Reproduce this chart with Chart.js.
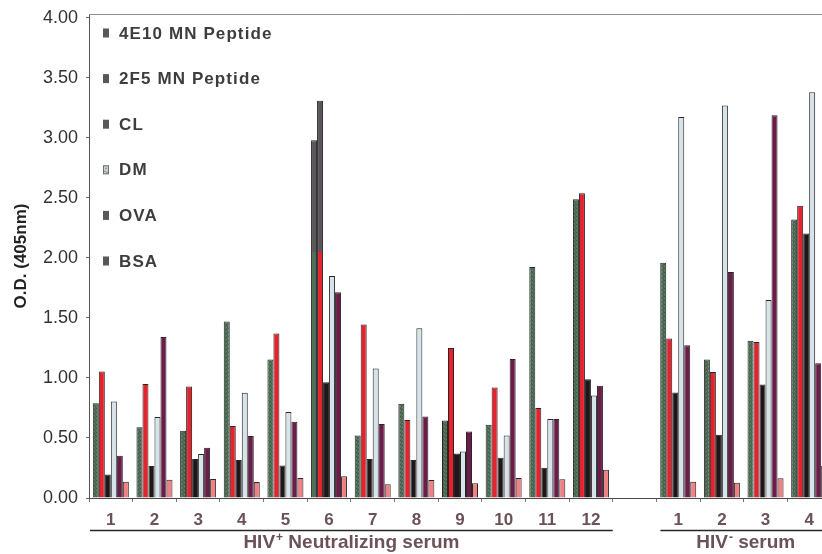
<!DOCTYPE html>
<html>
<head>
<meta charset="utf-8">
<script src="https://cdn.jsdelivr.net/npm/chart.js@4.4.1/dist/chart.umd.min.js"></script>
<style>
  html, body { margin: 0; padding: 0; background: #fff; overflow: hidden; }
  #wrap { width: 832px; height: 554px; }
</style>
</head>
<body>
<div id="wrap"><canvas id="c" width="832" height="554"></canvas></div>
<script>
// Serum samples: 12 HIV+ neutralizing sera, an empty slot, then 4 HIV- sera
const categories = ['1','2','3','4','5','6','7','8','9','10','11','12','','1','2','3','4'];
const seriesNames = ['4E10 MN Peptide', '2F5 MN Peptide', 'CL', 'DM', 'OVA', 'BSA'];

// O.D. (405nm) readings per antigen
const pep4E10 = [0.79, 0.59, 0.56, 1.47, 1.155, 2.98, 0.52, 0.785, 0.645, 0.61, 1.925, 2.49, null, 1.96, 1.155, 1.31, 2.32];
const pep2F5  = [1.055, 0.95, 0.93, 0.60, 1.37, 3.31, 1.445, 0.65, 1.25, 0.92, 0.75, 2.54, null, 1.33, 1.05, 1.30, 2.435];
const cl      = [0.196, 0.267, 0.325, 0.317, 0.27, 0.965, 0.325, 0.317, 0.37, 0.335, 0.252, 0.99, null, 0.88, 0.527, 0.945, 2.205];
const dm      = [0.805, 0.675, 0.366, 0.877, 0.717, 1.85, 1.08, 1.415, 0.388, 0.52, 0.658, 0.855, null, 3.175, 3.27, 1.65, 3.38];
const ova     = [0.352, 1.342, 0.418, 0.516, 0.636, 1.715, 0.617, 0.68, 0.555, 1.158, 0.658, 0.935, null, 1.272, 1.884, 3.19, 1.122];
const bsa     = [0.136, 0.153, 0.158, 0.133, 0.167, 0.181, 0.114, 0.15, 0.122, 0.167, 0.156, 0.236, null, 0.136, 0.128, 0.164, 0.269];

const yTicks = [0, 0.5, 1, 1.5, 2, 2.5, 3, 3.5, 4];
const Y_TOP = 4.033;   // frame sits a little above the 4.00 tick

// Serum groups under the axis
const groupSpans = [
  { base: 'HIV', sup: '+', rest: ' Neutralizing serum', from: 0, to: 11 },
  { base: 'HIV', sup: '-', rest: ' serum', from: 13, to: 16 }
];

const FONT = "'Liberation Sans', Arial, Helvetica, sans-serif";
const LABEL_COLOR = '#6b5257';
const SHADE = '#5a575c';           // legend block tone
const SHADED_GROUP = 5;            // sample 6 runs up into the legend block
const LEGEND_SHADE_FROM = 2.05;

const COLORS = {
  green: '#4e6e56',
  red: '#e6232c',
  black: '#1d1719',
  dm: '#d6e3e9',
  ova: '#6c1c49',
  bsa: '#ef8083'
};

// speckled green fill
function speckle(base, dark, light) {
  const c = document.createElement('canvas');
  c.width = 4; c.height = 4;
  const g = c.getContext('2d');
  g.fillStyle = base; g.fillRect(0, 0, 4, 4);
  g.fillStyle = dark;
  g.fillRect(0, 0, 1, 1); g.fillRect(2, 1, 1, 1); g.fillRect(1, 2, 1, 1); g.fillRect(3, 3, 1, 1);
  g.fillStyle = light;
  g.fillRect(2, 3, 1, 1); g.fillRect(0, 2, 1, 1);
  return g.createPattern(c, 'repeat');
}
const greenFill = speckle(COLORS.green, '#3f5a46', '#6a8870');

function shadedAbove(solid, fill) {
  return (ctx) => {
    const chart = ctx.chart;
    const area = chart.chartArea;
    if (!area || ctx.dataIndex !== SHADED_GROUP) return fill;
    const yCut = chart.scales.y.getPixelForValue(LEGEND_SHADE_FROM);
    const f = (area.bottom - yCut) / (area.bottom - area.top);
    const g = chart.ctx.createLinearGradient(0, area.bottom, 0, area.top);
    g.addColorStop(0, solid); g.addColorStop(f, solid);
    g.addColorStop(f, SHADE); g.addColorStop(1, SHADE);
    return g;
  };
}

const datasets = [
  { label: seriesNames[0], data: pep4E10, backgroundColor: shadedAbove(COLORS.green, greenFill) },
  { label: seriesNames[1], data: pep2F5, backgroundColor: shadedAbove(COLORS.red, COLORS.red) },
  { label: seriesNames[2], data: cl, backgroundColor: COLORS.black },
  { label: seriesNames[3], data: dm, backgroundColor: COLORS.dm },
  { label: seriesNames[4], data: ova, backgroundColor: COLORS.ova },
  { label: seriesNames[5], data: bsa, backgroundColor: COLORS.bsa }
].map(d => Object.assign(d, {
  borderColor: '#2a2527',
  borderWidth: 1,
  categoryPercentage: 0.825,
  barPercentage: 1.0
}));

// legend block drawn inside the plot, top-left
const legendBlock = {
  id: 'legendBlock',
  afterDatasetsDraw(chart) {
    const { ctx, chartArea } = chart;
    ctx.save();
    const x0 = chartArea.left + 14;
    seriesNames.forEach((name, i) => {
      const cy = chartArea.top + 19 + i * 45.6;
      if (name === 'DM') {
        ctx.fillStyle = '#c9d2d6';
        ctx.fillRect(x0, cy - 4.5, 6, 9);
        ctx.strokeStyle = '#6f6f6f'; ctx.lineWidth = 1;
        ctx.strokeRect(x0 + 0.5, cy - 4, 5, 8);
        ctx.fillStyle = '#8a8a8a';
        ctx.fillRect(x0 + 2, cy - 2, 2, 1); ctx.fillRect(x0 + 1, cy + 1, 2, 1); ctx.fillRect(x0 + 3, cy + 2, 2, 1);
      } else {
        ctx.fillStyle = SHADE;
        ctx.fillRect(x0, cy - 4.5, 6, 9);
      }
      ctx.fillStyle = '#3f3c3e';
      ctx.font = `bold 17px ${FONT}`;
      ctx.textBaseline = 'middle';
      ctx.textAlign = 'left';
      ctx.letterSpacing = '1.1px';
      ctx.fillText(name, x0 + 16, cy + 1);
    });
    ctx.restore();
  }
};

// frame line along the top and serum group captions under the axis
const frameAndGroups = {
  id: 'frameAndGroups',
  afterDraw(chart) {
    const { ctx, chartArea, scales } = chart;
    const xs = scales.x;
    const half = (xs.getPixelForValue(1) - xs.getPixelForValue(0)) / 2;
    ctx.save();
    ctx.strokeStyle = '#8e8e8e';
    ctx.lineWidth = 1;
    ctx.beginPath();
    ctx.moveTo(chartArea.left, chartArea.top + 0.5);
    ctx.lineTo(chart.width, chartArea.top + 0.5);
    ctx.stroke();

    groupSpans.forEach(gs => {
      const x1 = xs.getPixelForValue(gs.from) - half + (gs.from === 0 ? 1 : 4);
      const x2 = xs.getPixelForValue(gs.to) + half;
      const yLine = chartArea.bottom + 32.5;
      ctx.strokeStyle = '#2a2527';
      ctx.lineWidth = 1.5;
      ctx.beginPath();
      ctx.moveTo(x1, yLine); ctx.lineTo(x2, yLine);
      ctx.stroke();

      ctx.fillStyle = LABEL_COLOR;
      ctx.textBaseline = 'alphabetic';
      ctx.textAlign = 'left';
      const big = `bold 19px ${FONT}`;
      const small = `bold 12px ${FONT}`;
      ctx.font = big;
      const wBase = ctx.measureText(gs.base).width;
      const wRest = ctx.measureText(gs.rest).width;
      ctx.font = small;
      const wSup = ctx.measureText(gs.sup).width + 1;
      const total = wBase + wSup + wRest;
      let x = (x1 + x2) / 2 - total / 2;
      const yBase = chartArea.bottom + 50;
      ctx.font = big;
      ctx.fillText(gs.base, x, yBase);
      x += wBase + 1;
      ctx.font = small;
      ctx.fillText(gs.sup, x, yBase - 7);
      x += wSup - 1;
      ctx.font = big;
      ctx.fillText(gs.rest, x, yBase);
    });
    ctx.restore();
  }
};

new Chart(document.getElementById('c'), {
  type: 'bar',
  data: { labels: categories, datasets },
  options: {
    responsive: false,
    animation: false,
    devicePixelRatio: 1,
    layout: { padding: { left: 0, right: 1, top: 14, bottom: 0 } },
    plugins: {
      legend: { display: false },
      tooltip: { enabled: false }
    },
    scales: {
      x: {
        type: 'category',
        offset: true,
        afterFit: s => { s.height = 56; },
        grid: { drawOnChartArea: false, offset: true, tickLength: 4, color: '#777' },
        border: { color: '#4a4a4a', width: 1 },
        ticks: {
          autoSkip: false,
          maxRotation: 0,
          padding: 8,
          color: LABEL_COLOR,
          font: { family: FONT, size: 17, weight: 'bold' }
        }
      },
      y: {
        min: yTicks[0],
        max: Y_TOP,
        afterFit: s => { s.width = 89; s.paddingTop = 0; s.paddingBottom = 0; },
        afterBuildTicks: s => { s.ticks = yTicks.map(v => ({ value: v })); },
        grid: { drawOnChartArea: false, tickLength: 3, color: '#666' },
        border: { color: '#555', width: 1 },
        ticks: {
          padding: 8,
          color: '#333',
          font: { family: FONT, size: 18 },
          callback: v => Number(v).toFixed(2)
        },
        title: {
          display: true,
          text: 'O.D. (405nm)',
          color: '#222',
          padding: { top: 11, bottom: 0 },
          font: { family: FONT, size: 17, weight: 'bold' }
        }
      }
    }
  },
  plugins: [legendBlock, frameAndGroups]
});
</script>
</body>
</html>
